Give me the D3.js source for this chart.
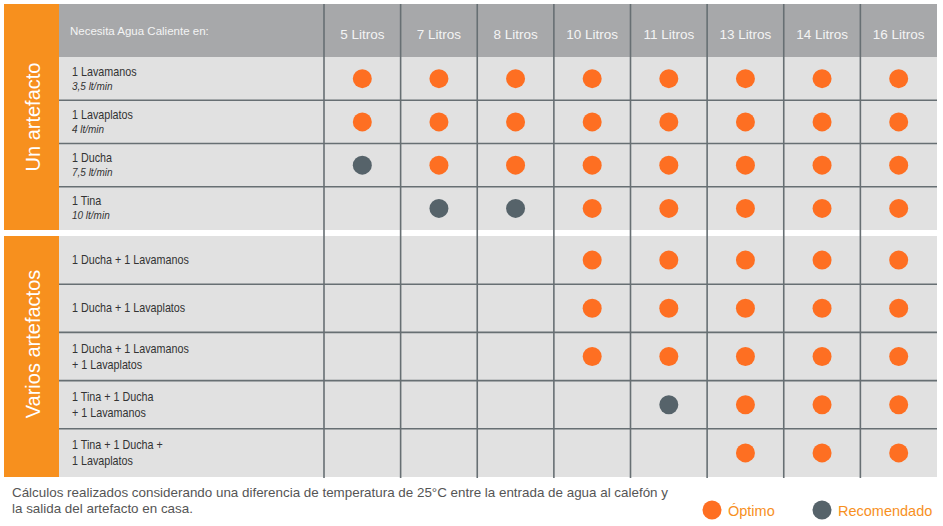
<!DOCTYPE html>
<html><head><meta charset="utf-8">
<script src="https://cdn.jsdelivr.net/npm/d3@7/dist/d3.min.js"></script>
<style>
html,body{margin:0;padding:0;background:#fff;}
svg{display:block;font-family:Arial,"Liberation Sans",sans-serif;}
</style></head>
<body><svg id="c" width="943" height="526"></svg>
<script>
// ---- data ----
const headerLabel = "Necesita Agua Caliente en:";
const columns = ["5 Litros","7 Litros","8 Litros","10 Litros","11 Litros","13 Litros","14 Litros","16 Litros"];
const groupNames = ["Un artefacto", "Varios artefactos"];

const singleLabels = [["1 Lavamanos"],["1 Lavaplatos"],["1 Ducha"],["1 Tina"]];
const singleRates = ["3,5 lt/min","4 lt/min","7,5 lt/min","10 lt/min"];
// O = Óptimo, R = Recomendado, "" = none
const singleValues = [
  ["O","O","O","O","O","O","O","O"],
  ["O","O","O","O","O","O","O","O"],
  ["R","O","O","O","O","O","O","O"],
  ["","R","R","O","O","O","O","O"]
];

const multiLabels = [
  ["1 Ducha + 1 Lavamanos"],
  ["1 Ducha + 1 Lavaplatos"],
  ["1 Ducha + 1 Lavamanos","+ 1 Lavaplatos"],
  ["1 Tina + 1 Ducha","+ 1 Lavamanos"],
  ["1 Tina + 1 Ducha +","1 Lavaplatos"]
];
const multiValues = [
  ["","","","O","O","O","O","O"],
  ["","","","O","O","O","O","O"],
  ["","","","O","O","O","O","O"],
  ["","","","","R","O","O","O"],
  ["","","","","","O","O","O"]
];

const legendKeys = ["O","R"];
const legendLabels = ["Óptimo","Recomendado"];
const footnote = ["Cálculos realizados considerando una diferencia de temperatura de 25°C entre la entrada de agua al calefón y",
                  "la salida del artefacto en casa."];

// ---- styles ----
const C = {
  side:"#f7901e", header:"#a7a8aa", cell:"#e1e1e1", grid:"#676f73",
  O:"#fe6f22", R:"#56636a", headText:"#f4f4f4", text:"#333", foot:"#555"
};

(function(){
const svg = d3.select("#c");
const L = 4, sideR = 59, labelR = 324, R = 937, T = 4, headB = 57;

const x = d3.scaleBand().domain(columns).range([labelR, R]);
const y1 = d3.scaleBand().domain(d3.range(singleValues.length)).range([headB, 230]);
const y2 = d3.scaleBand().domain(d3.range(multiValues.length)).range([236, 477]);
const color = d3.scaleOrdinal().domain(["O","R"]).range([C.O, C.R]);

// sidebar
svg.append("rect").attr("x",L).attr("y",T).attr("width",sideR-L).attr("height",230-T).attr("fill",C.side);
svg.append("rect").attr("x",L).attr("y",236).attr("width",sideR-L).attr("height",477-236).attr("fill",C.side);
[[groupNames[0],(T+230)/2],[groupNames[1],344]].forEach(([t,cy])=>{
  svg.append("text").attr("transform",`translate(${(L+sideR)/2+8},${cy}) rotate(-90)`)
    .attr("text-anchor","middle").attr("fill","#fff").attr("font-size",20).text(t);
});

// header
svg.append("rect").attr("x",sideR).attr("y",T).attr("width",R-sideR).attr("height",headB-T).attr("fill",C.header);
svg.append("text").attr("x",70).attr("y",35).attr("fill",C.headText).attr("font-size",11.5).text(headerLabel);
svg.selectAll("text.col").data(columns).join("text").attr("class","col")
  .attr("x",d=>x(d)+x.bandwidth()/2).attr("y",39).attr("text-anchor","middle")
  .attr("fill",C.headText).attr("font-size",13.5).text(d=>d);

// body backgrounds
svg.append("rect").attr("x",sideR).attr("y",headB).attr("width",R-sideR).attr("height",230-headB).attr("fill",C.cell);
svg.append("rect").attr("x",sideR).attr("y",236).attr("width",R-sideR).attr("height",477-236).attr("fill",C.cell);

// grid lines
function hLines(scale, n){
  d3.range(1,n).forEach(i=>{
    svg.append("line").attr("x1",sideR).attr("x2",R).attr("y1",scale(i)).attr("y2",scale(i))
      .attr("stroke",C.grid).attr("stroke-width",1.6);
  });
}
hLines(y1, singleValues.length);
hLines(y2, multiValues.length);
svg.selectAll("line.v").data(columns).join("line").attr("class","v")
  .attr("x1",d=>x(d)).attr("x2",d=>x(d)).attr("y1",T).attr("y2",478)
  .attr("stroke",C.grid).attr("stroke-width",1.6);

// row labels (condensed look via horizontal scale)
function rowLabels(scale, labels, rates){
  labels.forEach((lines,i)=>{
    const all = lines.map(t=>({t,it:false}));
    if(rates) all.push({t:rates[i],it:true});
    const lh = rates ? 14 : 16;
    const cy = scale(i)+scale.bandwidth()/2;
    const start = cy - (all.length-1)*lh/2;
    all.forEach((l,k)=>{
      svg.append("text")
        .attr("transform",`translate(72,${start+k*lh+4}) scale(${l.it?0.95:0.84},1)`)
        .attr("fill",C.text)
        .attr("font-style", l.it ? "italic":"normal")
        .attr("font-size", l.it ? 10.5 : 12.8)
        .text(l.t);
    });
  });
}
rowLabels(y1, singleLabels, singleRates);
rowLabels(y2, multiLabels, null);

// dots
function dots(scale, values){
  values.forEach((row,i)=>{
    svg.append("g").selectAll("circle").data(row.map((v,j)=>({v,c:columns[j]})).filter(d=>d.v))
      .join("circle")
      .attr("cx",d=>x(d.c)+x.bandwidth()/2)
      .attr("cy",scale(i)+scale.bandwidth()/2)
      .attr("r",9.5).attr("fill",d=>color(d.v));
  });
}
dots(y1, singleValues);
dots(y2, multiValues);

// footnote
footnote.forEach((t,i)=>{
  svg.append("text").attr("x",12).attr("y",497+i*15.5).attr("fill",C.foot).attr("font-size",13.4).text(t);
});

// legend
const lx = [712, 822];
legendKeys.forEach((k,i)=>{
  svg.append("circle").attr("cx",lx[i]).attr("cy",510).attr("r",9.5).attr("fill",color(k));
  svg.append("text").attr("x",lx[i]+16).attr("y",516).attr("fill",C.side).attr("font-size",14.5).text(legendLabels[i]);
});
})();
</script></body></html>
